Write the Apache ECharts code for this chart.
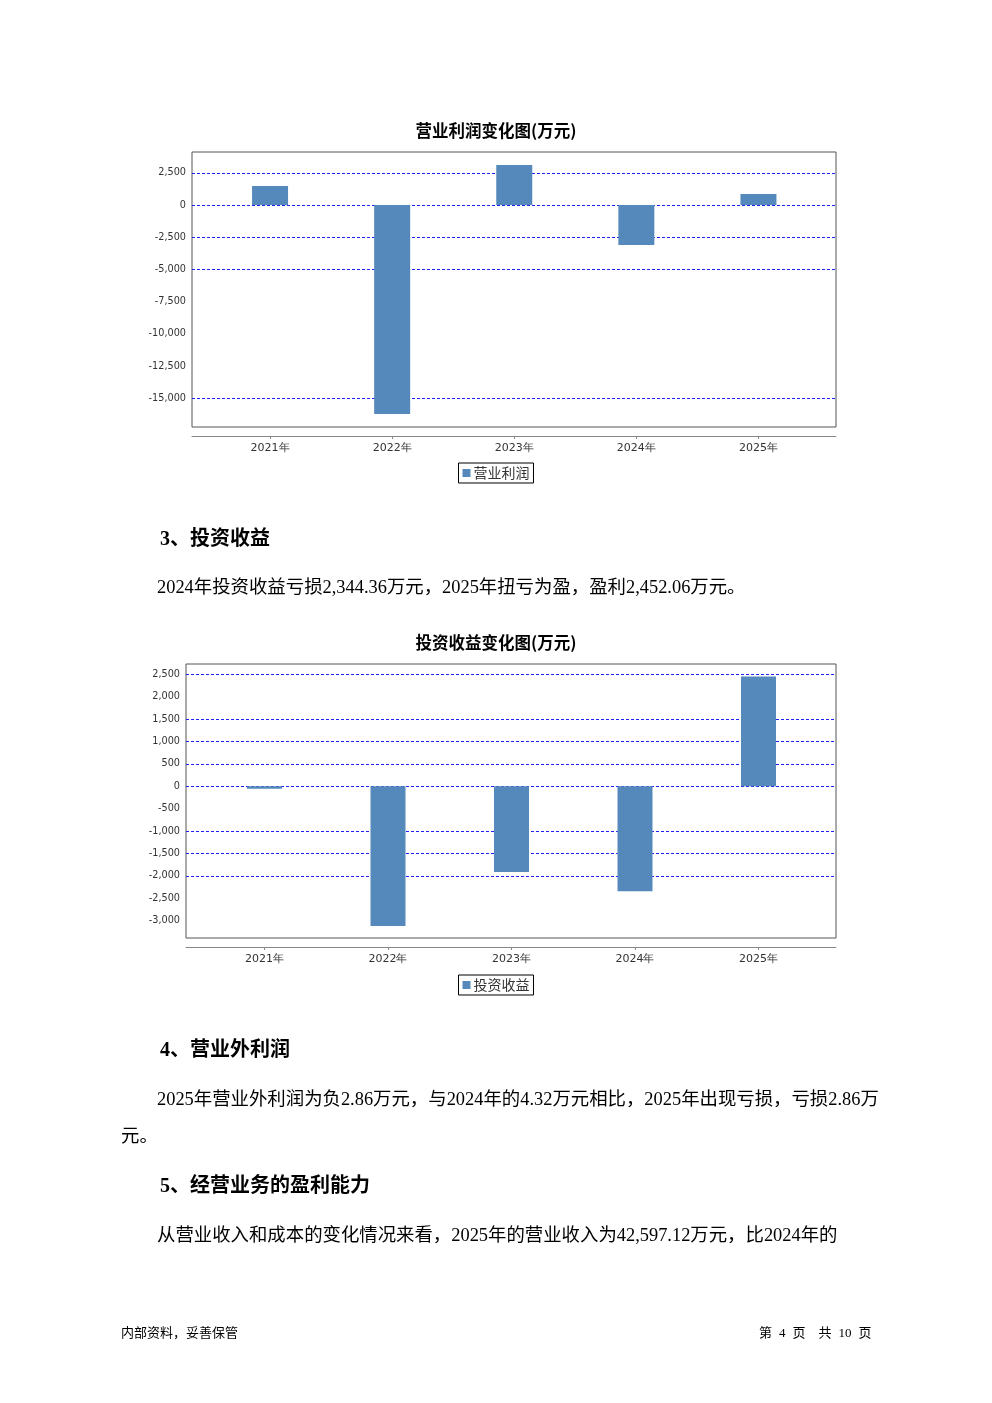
<!DOCTYPE html>
<html><head><meta charset="utf-8">
<script src="https://cdn.jsdelivr.net/npm/echarts@6/dist/echarts.min.js"></script>
<style>
html,body{margin:0;padding:0;background:#fff;}
#page{position:relative;width:992px;height:1403px;overflow:hidden;background:#fff;}
#chart{position:absolute;left:0;top:0;width:992px;height:1403px;}
.t{position:absolute;white-space:nowrap;font-family:"Liberation Serif","Noto Sans CJK SC",serif;font-size:18.4px;line-height:24px;color:#000;z-index:2;}
.h{font-weight:bold;font-size:20px;}
.f{font-size:13px;}
.f span{margin-left:7px;}
</style></head><body>
<div id="page">
<div id="chart"></div>
<div class="t h" style="left:160px;top:526px">3、投资收益</div>
<div class="t" style="left:157px;top:575px">2024年投资收益亏损2,344.36万元，2025年扭亏为盈，盈利2,452.06万元。</div>
<div class="t h" style="left:160px;top:1037px">4、营业外利润</div>
<div class="t" style="left:157px;top:1087px">2025年营业外利润为负2.86万元，与2024年的4.32万元相比，2025年出现亏损，亏损2.86万</div>
<div class="t" style="left:121px;top:1124px">元。</div>
<div class="t h" style="left:160px;top:1173px">5、经营业务的盈利能力</div>
<div class="t" style="left:157px;top:1223px">从营业收入和成本的变化情况来看，2025年的营业收入为42,597.12万元，比2024年的</div>
<div class="t f" style="left:121px;top:1321px">内部资料，妥善保管</div>
<div class="t f" style="left:759px;top:1321px">第<span>4</span><span>页</span><span style="margin-left:13px">共</span><span>10</span><span>页</span></div>
</div>
<script>
// ---- data ----
const years = ['2021年', '2022年', '2023年', '2024年', '2025年'];
const profitName = '营业利润';
const profitValues = [1474, -16230, 3104, -3104, 853];
const profitTickLabels = [2500, 0, -2500, -5000, -7500, -10000, -12500, -15000];
const profitGridLines = [2500, 0, -2500, -5000, -15000];
const profitRange = [-17236, 4115];

const investName = '投资收益';
const investValues = [-55, -3118, -1913, -2344.36, 2452.06];
const investTickLabels = [2500, 2000, 1500, 1000, 500, 0, -500, -1000, -1500, -2000, -2500, -3000];
const investGridLines = [2500, 1500, 1000, 500, 0, -1000, -1500, -2000];
const investRange = [-3386, 2730];

// ---- styles ----
const barColor = '#5689bb';
const gridLineStyle = {color: '#1f1fff', type: [3, 2], width: 1};
const fmt = v => Number(v).toLocaleString('en-US');
const labelFont = 'DejaVu Sans';

const chart = echarts.init(document.getElementById('chart'), null, {renderer: 'canvas'});

function boxYAxis(gridIndex, range, labels, lines) {
  return {
    gridIndex, type: 'value', min: range[0], max: range[1],
    axisLine: {show: false},
    axisTick: {show: false, customValues: lines},
    axisLabel: {customValues: labels, formatter: fmt, fontSize: 9.7, color: '#333', margin: 6, fontFamily: labelFont},
    splitLine: {show: true, lineStyle: gridLineStyle}
  };
}
function hiddenYAxis(gridIndex, range) {
  return {gridIndex, type: 'value', min: range[0], max: range[1], show: false, splitLine: {show: false}};
}
function lineXAxis(gridIndex) {
  return {gridIndex, type: 'value', min: 0, max: 1, position: 'bottom', offset: 9,
    axisLine: {show: true, onZero: false, lineStyle: {color: '#888', width: 1}},
    axisTick: {show: false}, axisLabel: {show: false}, splitLine: {show: false}};
}
function catXAxis(gridIndex) {
  return {gridIndex, type: 'category', data: years, position: 'bottom', offset: 9,
    axisLine: {show: false, onZero: false},
    axisTick: {show: true, alignWithLabel: true, length: 3, lineStyle: {color: '#888'}},
    axisLabel: {fontSize: 11, color: '#333', margin: 7, fontFamily: labelFont}};
}
const titleStyle = {fontSize: 16.5, fontWeight: 'bold', color: '#000', fontFamily: 'Noto Sans CJK SC'};
function legendFor(name, top) {
  return {data: [name], left: 'center', top, orient: 'horizontal',
    borderColor: '#000', borderWidth: 1, padding: [3, 4, 3, 4], itemWidth: 8, itemHeight: 8, itemGap: 4,
    icon: 'rect', textStyle: {fontSize: 14, color: '#333', fontFamily: 'Noto Sans CJK SC', padding: [0, 0, 0, -2]}};
}

chart.setOption({
  animation: false,
  backgroundColor: 'transparent',
  title: [
    {text: '营业利润变化图(万元)', left: 'center', top: 117, textStyle: titleStyle},
    {text: '投资收益变化图(万元)', left: 'center', top: 629, textStyle: titleStyle}
  ],
  legend: [legendFor(profitName, 463), legendFor(investName, 975)],
  grid: [
    {left: 192, top: 152, width: 644, height: 275, show: true, borderColor: '#555', borderWidth: 1, backgroundColor: '#fff'},
    {left: 209, top: 152, width: 610.5, height: 275},
    {left: 186, top: 664, width: 650, height: 274, show: true, borderColor: '#555', borderWidth: 1, backgroundColor: '#fff'},
    {left: 202.75, top: 664, width: 617.5, height: 274}
  ],
  xAxis: [lineXAxis(0), catXAxis(1), lineXAxis(2), catXAxis(3)],
  yAxis: [
    boxYAxis(0, profitRange, profitTickLabels, profitGridLines),
    hiddenYAxis(1, profitRange),
    boxYAxis(2, investRange, investTickLabels, investGridLines),
    hiddenYAxis(3, investRange)
  ],
  series: [
    {name: profitName, type: 'bar', xAxisIndex: 1, yAxisIndex: 1, data: profitValues, barWidth: 36,
     itemStyle: {color: barColor}},
    {name: investName, type: 'bar', xAxisIndex: 3, yAxisIndex: 3, data: investValues, barWidth: 35,
     itemStyle: {color: barColor}}
  ]
});
</script>
</body></html>
